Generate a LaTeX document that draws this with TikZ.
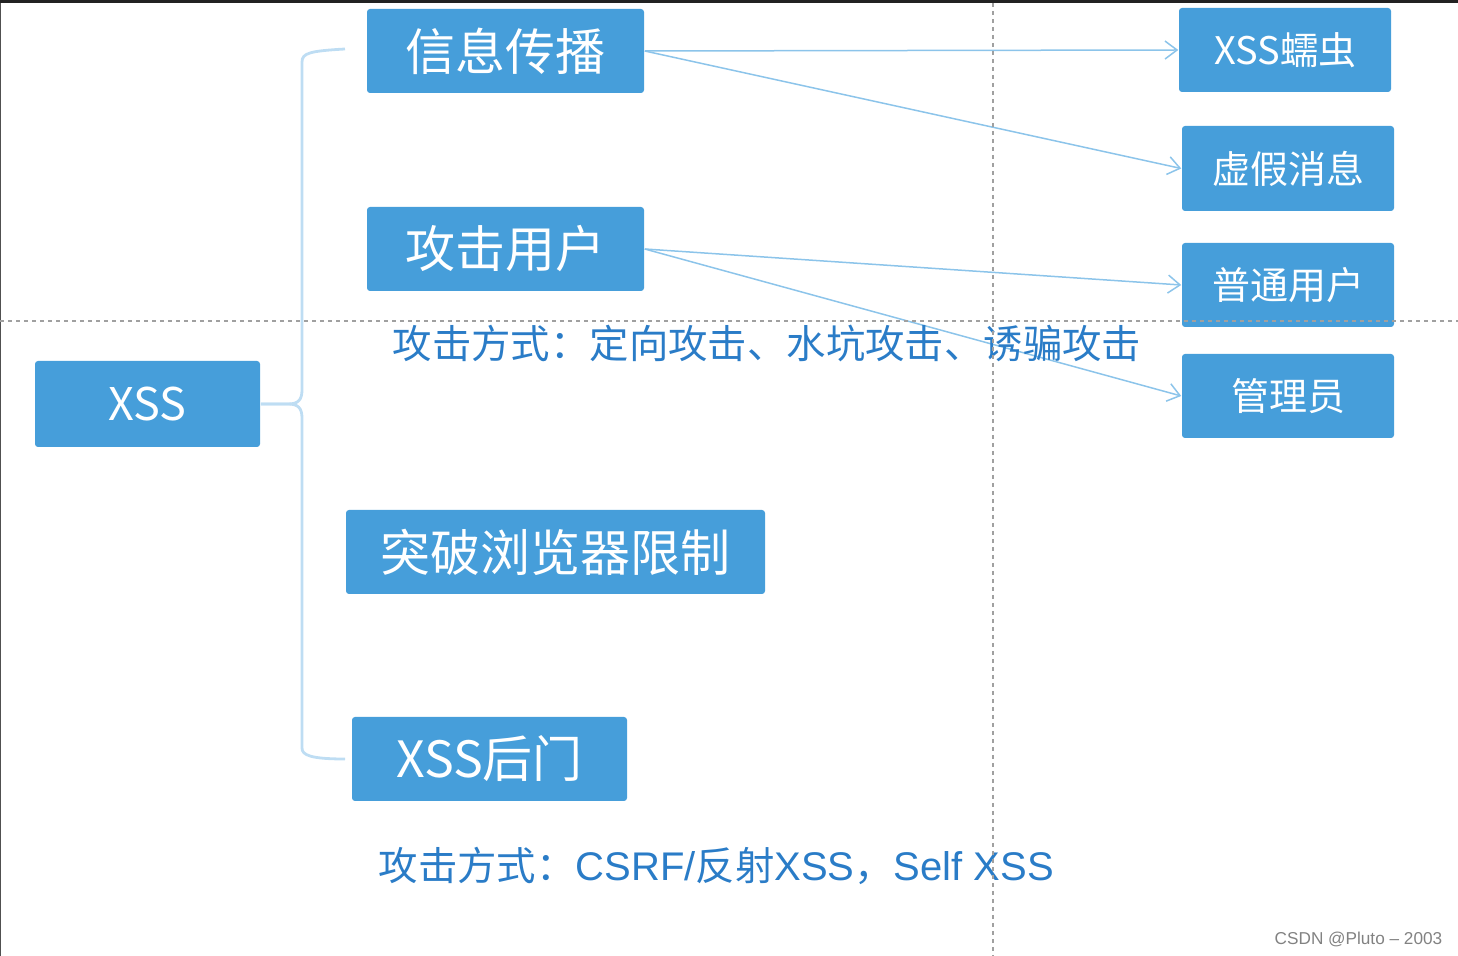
\documentclass[tikz,border=0pt]{standalone}
\usepackage{fontspec}
\setmainfont{Noto Sans CJK SC}
\newfontfamily\latinfont{Liberation Sans}
\usetikzlibrary{arrows.meta}

\definecolor{boxblue}{RGB}{70,158,218}
\definecolor{linkblue}{RGB}{140,196,234}
\definecolor{braceblue}{RGB}{190,221,243}
\definecolor{noteblue}{RGB}{42,124,199}
\definecolor{guidegrey}{RGB}{160,160,160}

\tikzset{every picture/.style={line width=0.75pt}}
\tikzset{
  bigbox/.style={fill=boxblue,rounded corners=1.5pt,text=white,inner sep=0pt,font=\fontsize{25}{25}\selectfont},
  sidebox/.style={fill=boxblue,rounded corners=1.5pt,text=white,inner sep=0pt,font=\fontsize{19}{19}\selectfont},
  link/.style={draw=linkblue,line width=0.75pt,-{Straight Barb[length=6pt,width=9pt]}},
  brace/.style={draw=braceblue,line width=1.4pt},
  guide/.style={draw=guidegrey,line width=0.6pt,dash pattern={on 2pt off 2pt}},
  note/.style={text=noteblue,inner sep=0pt,anchor=west,font=\fontsize{19.7}{19.7}\selectfont}
}
\newcommand{\latinpart}[1]{{\latinfont\fontsize{20}{20}\selectfont #1}}

\begin{document}
\begin{tikzpicture}[x=0.5pt,y=0.5pt,yscale=-1,xscale=1]
\useasboundingbox (0,0) rectangle (1458,956);

%Frame edges
\fill [fill={rgb, 255:red, 34; green, 34; blue, 34 }] (0,0) rectangle (1458,3);
\draw [color={rgb, 255:red, 80; green, 80; blue, 80 }, line width=0.6pt] (0.5,3) -- (0.5,956);

% Root
\node [bigbox, minimum width=112.5pt, minimum height=43pt, font=\fontsize{22.5}{22.5}\selectfont] (xss) at (147.5,404) {XSS};

% Branches
\node [bigbox, minimum width=138.5pt, minimum height=42pt] (info) at (505.5,51) {信息传播};
\node [bigbox, minimum width=138.5pt, minimum height=42pt] (attack) at (505.5,249) {攻击用户};
\node [bigbox, minimum width=209.5pt, minimum height=42pt] (breach) at (555.5,552) {突破浏览器限制};
\node [bigbox, minimum width=137.5pt, minimum height=42pt] (backdoor) at (489.5,759) {XSS后门};

% Leaves
\node [sidebox, minimum width=106pt, minimum height=42pt] (worm) at (1285,50) {XSS蠕虫};
\node [sidebox, minimum width=106pt, minimum height=42.5pt] (fake) at (1288,168.5) {虚假消息};
\node [sidebox, minimum width=106pt, minimum height=42pt] (user) at (1288,285) {普通用户};
\node [sidebox, minimum width=106pt, minimum height=42pt] (admin) at (1288,396) {管理员};

% Brace ends
\coordinate (topend) at (345,49);
\coordinate (botend) at (345,759);

%Brace
\draw [brace] (xss.east) -- (288,404) .. controls (298,404) and (302,400) .. (302,390) -- (302,62) .. controls (302,53) and (310,51) .. (topend);
\draw [brace] (xss.east) -- (288,404) .. controls (298,404) and (302,408) .. (302,418) -- (302,748) .. controls (302,755) and (310,759) .. (botend);

%Arrows
\draw [link] (info.east) -- (worm.west);
\draw [link] (info.east) -- (fake.west);
\draw [link] (attack.east) -- (user.west);
\draw [link] (attack.east) -- (admin.west);

% Text Node
\node [note] (way1) at (392,343) {攻击方式：定向攻击、水坑攻击、诱骗攻击};
% Text Node
\node [note] (way2) at (378,866) {攻击方式：\latinpart{CSRF/}反射\latinpart{XSS}，\latinpart{Self XSS}};

%Guide lines
\draw [guide] (0,321) -- (1458,321);
\draw [guide] (993,3) -- (993,956);

% Text Node
\node [anchor=east, inner sep=0pt, text={rgb, 255:red, 130; green, 130; blue, 130 }, font=\latinfont\fontsize{8.6}{8.6}\selectfont] (mark) at (1443,939) {CSDN @Pluto – 2003};

\end{tikzpicture}
\end{document}
